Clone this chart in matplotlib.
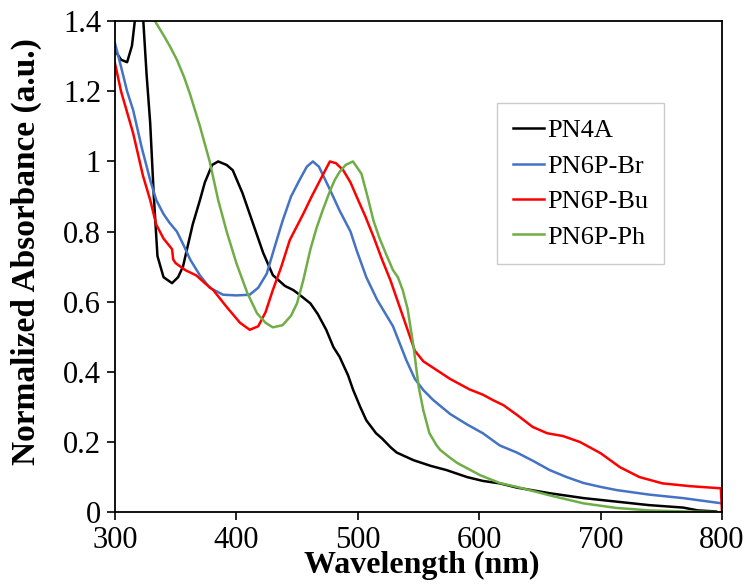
import matplotlib
matplotlib.use("Agg")
import matplotlib.pyplot as plt

# Spektren (normiert)
wl_pn4a = [300, 305, 310, 314, 317, 320, 323, 326, 329, 332, 335, 340, 347, 352, 356,
           360, 364, 370, 374, 380, 385, 392, 397, 405, 410, 414, 422, 430, 440, 447,
           452, 461, 467, 474, 480, 485, 492, 496, 502, 507, 515, 520, 527, 532, 546,
           560, 573, 590, 603, 617, 631, 658, 686, 713, 740, 768, 780, 795]
abs_pn4a = [1.317, 1.29, 1.283, 1.33, 1.42, 1.48, 1.42, 1.25, 1.11, 0.90, 0.73, 0.67, 0.653, 0.67, 0.70,
            0.76, 0.82, 0.89, 0.94, 0.99, 1.0, 0.99, 0.975, 0.91, 0.86, 0.82, 0.74, 0.676, 0.645, 0.633,
            0.62, 0.595, 0.565, 0.52, 0.47, 0.443, 0.39, 0.35, 0.30, 0.262, 0.225, 0.21, 0.185, 0.17, 0.148,
            0.132, 0.12, 0.10, 0.089, 0.082, 0.07, 0.054, 0.04, 0.03, 0.02, 0.013, 0.005, 0.002]

wl_br = [300, 305, 310, 315, 322, 329, 334, 340, 345, 351, 356, 362, 370, 378, 389, 400,
         411, 418, 425, 431, 438, 445, 452, 458, 463, 468, 477, 485, 494, 499, 507,
         516, 529, 540, 547, 554, 562, 576, 590, 603, 617, 631, 645, 658, 672, 686,
         700, 713, 740, 768, 800]
abs_br = [1.337, 1.27, 1.20, 1.146, 1.04, 0.947, 0.89, 0.85, 0.825, 0.80, 0.765, 0.72, 0.675, 0.64, 0.62, 0.618,
          0.62, 0.64, 0.68, 0.75, 0.83, 0.90, 0.947, 0.985, 1.0, 0.985, 0.92, 0.86, 0.80, 0.747, 0.67,
          0.605, 0.53, 0.433, 0.38, 0.348, 0.32, 0.28, 0.25, 0.225, 0.19, 0.17, 0.145, 0.12, 0.10, 0.083,
          0.072, 0.063, 0.05, 0.04, 0.025]

wl_bu = [300, 305, 310, 315, 323, 329, 334, 340, 347, 348, 350, 358, 367, 375, 381,
         392, 403, 411, 418, 424, 430, 437, 444, 455, 462, 469, 477, 482, 488, 494,
         499, 506, 513, 520, 527, 534, 540, 547, 554, 565, 576, 592, 603, 611, 620,
         632, 644, 656, 669, 683, 700, 716, 732, 751, 774, 799, 800]
abs_bu = [1.28, 1.20, 1.14, 1.08, 0.96, 0.89, 0.82, 0.78, 0.75, 0.72, 0.71, 0.69, 0.675, 0.65, 0.633,
          0.585, 0.54, 0.52, 0.53, 0.57, 0.633, 0.70, 0.776, 0.85, 0.90, 0.947, 1.0, 0.995, 0.975, 0.94,
          0.90, 0.845, 0.785, 0.72, 0.66, 0.59, 0.53, 0.46, 0.43, 0.405, 0.38, 0.35, 0.335, 0.32, 0.305,
          0.275, 0.243, 0.225, 0.217, 0.20, 0.168, 0.128, 0.10, 0.082, 0.074, 0.068, 0.0]

wl_ph = [325, 333, 340, 345, 351, 357, 362, 370, 378, 385, 392, 400, 409, 417, 424,
         430, 438, 445, 450, 455, 461, 466, 471, 477, 481, 485, 490, 496, 503, 508,
         513, 518, 524, 529, 533, 537, 541, 546, 550, 554, 559, 565, 568, 576, 582,
         601, 617, 631, 658, 686, 713, 740, 770, 800]
abs_ph = [1.46, 1.40, 1.36, 1.33, 1.29, 1.24, 1.19, 1.10, 1.00, 0.89, 0.80, 0.71, 0.625, 0.567, 0.54,
          0.527, 0.533, 0.56, 0.596, 0.66, 0.75, 0.81, 0.86, 0.915, 0.947, 0.97, 0.99, 1.0, 0.965, 0.90,
          0.83, 0.78, 0.73, 0.69, 0.67, 0.633, 0.58, 0.47, 0.36, 0.29, 0.225, 0.19, 0.177, 0.155, 0.14,
          0.105, 0.083, 0.072, 0.048, 0.025, 0.012, 0.005, 0.002, 0.0]

labels = ["PN4A", "PN6P-Br", "PN6P-Bu", "PN6P-Ph"]
colors = ["black", "#4472C4", "#FF0000", "#70AD47"]

x_ticks = [300, 400, 500, 600, 700, 800]
y_ticks = [0, 0.2, 0.4, 0.6, 0.8, 1.0, 1.2, 1.4]
y_ticklabels = ["0", "0.2", "0.4", "0.6", "0.8", "1", "1.2", "1.4"]

plt.rcParams['font.family'] = ['Liberation Serif', 'DejaVu Serif']

fig = plt.figure(figsize=(7.49, 5.88), dpi=100)
ax = fig.add_axes([0.1535, 0.129, 0.964 - 0.1535, 0.964 - 0.129])

series = [(wl_pn4a, abs_pn4a), (wl_br, abs_br), (wl_bu, abs_bu), (wl_ph, abs_ph)]
for (x, y), lab, col in zip(series, labels, colors):
    ax.plot(x, y, color=col, lw=1.8, label=lab)

ax.set_xlim(300, 800)
ax.set_ylim(0, 1.4)
ax.set_xticks(x_ticks)
ax.set_yticks(y_ticks)
ax.set_yticklabels(y_ticklabels)
ax.tick_params(direction='out', length=6, width=1.2, labelsize=22, pad=4, colors='black')

for sp in ax.spines.values():
    sp.set_linewidth(1.3)
    sp.set_color('black')

ax.set_xlabel("Wavelength (nm)", fontsize=23, fontweight='bold')
ax.set_ylabel("Normalized Absorbance (a.u.)", fontsize=24, fontweight='bold')
ax.xaxis.set_label_coords(0.505, -0.078)
ax.yaxis.set_label_coords(-0.12, 0.53)

leg = ax.legend(loc='upper left', bbox_to_anchor=(0.629, 0.833), borderaxespad=0,
                fontsize=19, frameon=True, fancybox=False, handlelength=1.2,
                handletextpad=0.1, labelspacing=0.45, borderpad=0.6)
leg.get_frame().set_edgecolor('#bfbfbf')
leg.get_frame().set_linewidth(1.0)

fig.savefig("out.png", dpi=100)
